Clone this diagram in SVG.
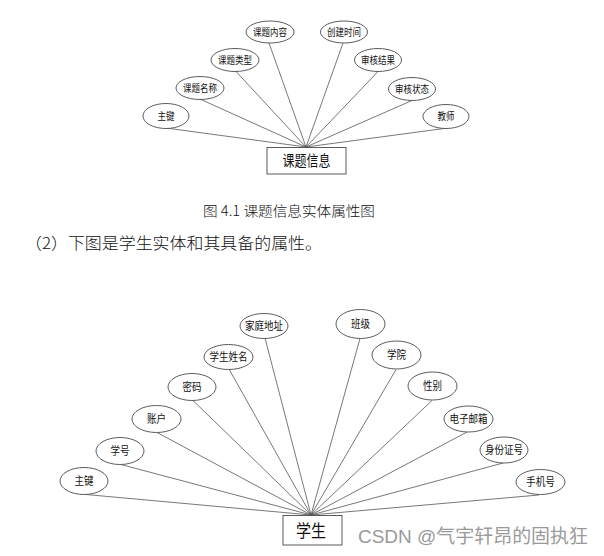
<svg xmlns="http://www.w3.org/2000/svg" width="604" height="556" viewBox="0 0 604 556">
<style>
.bg{fill:#ffffff}
.attr ellipse{fill:#ffffff;stroke:#4a4a4a;stroke-width:0.9}
.ent rect{fill:#ffffff;stroke:#4a4a4a;stroke-width:0.9}
.conn line{stroke:#555555;stroke-width:0.8}
text{font-family:"Noto Sans CJK SC","Liberation Sans",sans-serif;fill:#111111;text-anchor:middle}
.t1{font-size:10px}
.t2{font-size:11px}
.cap{font-size:14px;text-anchor:start;font-weight:300}
.para{font-size:16px;text-anchor:start;font-weight:300}
.wm{font-size:19px;fill:#9a9a9a;text-anchor:start;font-family:"Liberation Sans","Noto Sans CJK SC",sans-serif}
</style>
<rect class="bg" x="0" y="0" width="604" height="556"/>

<!-- Diagram 1 connectors -->
<g id="connectors1" class="conn">
<line x1="166" y1="128" x2="306" y2="147"/>
<line x1="201" y1="99.5" x2="306" y2="147"/>
<line x1="236" y1="71.5" x2="306" y2="147"/>
<line x1="269" y1="43" x2="306" y2="147"/>
<line x1="343" y1="43" x2="306" y2="147"/>
<line x1="378" y1="71.5" x2="306" y2="147"/>
<line x1="412" y1="100.5" x2="306" y2="147"/>
<line x1="444" y1="128.5" x2="306" y2="147"/>
</g>

<g id="e1-zhujian" class="attr"><ellipse cx="166" cy="116" rx="23" ry="12.5"/><text class="t1" x="166" y="119.5" textLength="17" lengthAdjust="spacingAndGlyphs">主键</text></g>
<g id="e1-mingcheng" class="attr"><ellipse cx="200" cy="88" rx="24" ry="11.5"/><text class="t1" x="200" y="91.5" textLength="34" lengthAdjust="spacingAndGlyphs">课题名称</text></g>
<g id="e1-leixing" class="attr"><ellipse cx="235" cy="60" rx="24" ry="11.5"/><text class="t1" x="235" y="63.5" textLength="34" lengthAdjust="spacingAndGlyphs">课题类型</text></g>
<g id="e1-neirong" class="attr"><ellipse cx="270" cy="32" rx="24" ry="11"/><text class="t1" x="270" y="35.5" textLength="34" lengthAdjust="spacingAndGlyphs">课题内容</text></g>
<g id="e1-shijian" class="attr"><ellipse cx="344" cy="32" rx="23.5" ry="11"/><text class="t1" x="344" y="35.5" textLength="34" lengthAdjust="spacingAndGlyphs">创建时间</text></g>
<g id="e1-jieguo" class="attr"><ellipse cx="378" cy="60" rx="23.5" ry="11.5"/><text class="t1" x="378" y="63.5" textLength="34" lengthAdjust="spacingAndGlyphs">审核结果</text></g>
<g id="e1-zhuangtai" class="attr"><ellipse cx="412" cy="89" rx="23.5" ry="11.5"/><text class="t1" x="412" y="92.5" textLength="34" lengthAdjust="spacingAndGlyphs">审核状态</text></g>
<g id="e1-jiaoshi" class="attr"><ellipse cx="446" cy="116.5" rx="23" ry="12"/><text class="t1" x="446" y="120" textLength="17" lengthAdjust="spacingAndGlyphs">教师</text></g>

<g id="ent-ketixinxi" class="ent"><rect x="267" y="147.5" width="79" height="26.5"/><text x="306.5" y="166" style="font-size:15px" textLength="48" lengthAdjust="spacingAndGlyphs">课题信息</text></g>

<text class="cap" x="203" y="216" textLength="172" lengthAdjust="spacingAndGlyphs">图 4.1 课题信息实体属性图</text>
<text class="para" x="25" y="249" textLength="297" lengthAdjust="spacingAndGlyphs">（2）下图是学生实体和其具备的属性。</text>

<!-- Diagram 2 connectors -->
<g id="connectors2" class="conn">
<line x1="86" y1="494.5" x2="311" y2="515"/>
<line x1="121" y1="464.5" x2="311" y2="515"/>
<line x1="157" y1="432.5" x2="311" y2="515"/>
<line x1="193" y1="400.5" x2="311" y2="515"/>
<line x1="229" y1="369" x2="311" y2="515"/>
<line x1="265" y1="338" x2="311" y2="515"/>
<line x1="360" y1="338.5" x2="311" y2="515"/>
<line x1="396" y1="369.5" x2="311" y2="515"/>
<line x1="432" y1="400.5" x2="311" y2="515"/>
<line x1="467" y1="432" x2="311" y2="515"/>
<line x1="503" y1="463" x2="311" y2="515"/>
<line x1="539" y1="495" x2="311" y2="515"/>
</g>

<g id="e2-zhujian" class="attr"><ellipse cx="84" cy="481" rx="24" ry="13.5"/><text class="t2" x="84" y="485" textLength="19" lengthAdjust="spacingAndGlyphs">主键</text></g>
<g id="e2-xuehao" class="attr"><ellipse cx="120" cy="451" rx="24" ry="13.5"/><text class="t2" x="120" y="455" textLength="19" lengthAdjust="spacingAndGlyphs">学号</text></g>
<g id="e2-zhanghu" class="attr"><ellipse cx="156.5" cy="419" rx="24.5" ry="13.5"/><text class="t2" x="156.5" y="423" textLength="19" lengthAdjust="spacingAndGlyphs">账户</text></g>
<g id="e2-mima" class="attr"><ellipse cx="192" cy="387" rx="24" ry="13.5"/><text class="t2" x="192" y="391" textLength="19" lengthAdjust="spacingAndGlyphs">密码</text></g>
<g id="e2-xingming" class="attr"><ellipse cx="228.5" cy="357" rx="24.5" ry="12.5"/><text class="t2" x="228.5" y="361" textLength="38" lengthAdjust="spacingAndGlyphs">学生姓名</text></g>
<g id="e2-dizhi" class="attr"><ellipse cx="264" cy="326" rx="24" ry="12.5"/><text class="t2" x="264" y="330" textLength="38" lengthAdjust="spacingAndGlyphs">家庭地址</text></g>
<g id="e2-banji" class="attr"><ellipse cx="360.5" cy="324" rx="24.5" ry="14.5"/><text class="t2" x="360.5" y="328" textLength="19" lengthAdjust="spacingAndGlyphs">班级</text></g>
<g id="e2-xueyuan" class="attr"><ellipse cx="396.5" cy="355" rx="24.5" ry="14"/><text class="t2" x="396.5" y="359" textLength="19" lengthAdjust="spacingAndGlyphs">学院</text></g>
<g id="e2-xingbie" class="attr"><ellipse cx="432.5" cy="386" rx="24.5" ry="14"/><text class="t2" x="432.5" y="390" textLength="19" lengthAdjust="spacingAndGlyphs">性别</text></g>
<g id="e2-youxiang" class="attr"><ellipse cx="468.5" cy="419" rx="24.5" ry="13"/><text class="t2" x="468.5" y="423" textLength="38" lengthAdjust="spacingAndGlyphs">电子邮箱</text></g>
<g id="e2-shenfenzheng" class="attr"><ellipse cx="504" cy="450" rx="24" ry="13"/><text class="t2" x="504" y="454" textLength="38" lengthAdjust="spacingAndGlyphs">身份证号</text></g>
<g id="e2-shouji" class="attr"><ellipse cx="540.5" cy="482" rx="24.5" ry="12.5"/><text class="t2" x="540.5" y="486" textLength="29" lengthAdjust="spacingAndGlyphs">手机号</text></g>

<g id="ent-xuesheng" class="ent"><rect x="283" y="515.5" width="59" height="29.5"/><text x="311" y="536.5" style="font-size:17px" textLength="30" lengthAdjust="spacingAndGlyphs">学生</text></g>

<text class="wm" x="358" y="543" textLength="230" lengthAdjust="spacingAndGlyphs">CSDN @气宇轩昂的固执狂</text>
</svg>
